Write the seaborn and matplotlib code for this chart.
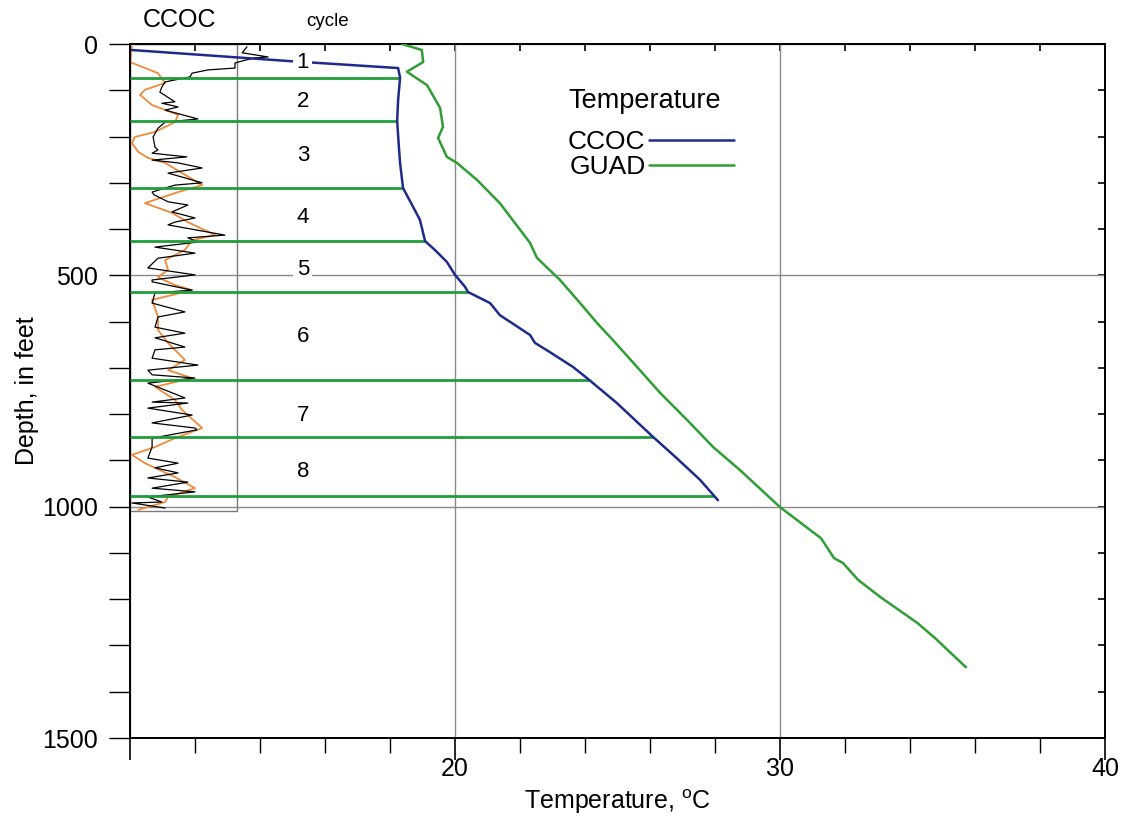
import numpy as np
import pandas as pd
import matplotlib
matplotlib.use("Agg")
import matplotlib.pyplot as plt
import seaborn as sns
from matplotlib.lines import Line2D
from matplotlib.patches import Rectangle
from matplotlib.ticker import MultipleLocator

# ---------------- data ----------------
# CCOC temperature profile (depth ft, temperature degC)
ccoc_depth = [13, 37, 52, 73, 121, 166, 229, 257, 311, 348, 380, 426, 445, 471, 499,
              525, 536, 560, 586, 629, 646, 666, 698, 722, 776, 849, 888, 942, 986]
ccoc_temp = [10.06, 14.92, 18.25, 18.31, 18.25, 18.22, 18.28, 18.31, 18.40, 18.68, 18.92,
             19.08, 19.38, 19.75, 20.00, 20.31, 20.40, 21.08, 21.38, 22.31, 22.46, 22.92,
             23.63, 24.06, 24.98, 26.09, 26.71, 27.54, 28.09]

# GUAD temperature profile
guad_depth = [0, 13, 39, 60, 89, 138, 179, 203, 244, 257, 294, 344, 430, 462, 510, 560,
              603, 640, 705, 754, 819, 871, 921, 1001, 1057, 1068, 1111, 1122, 1158,
              1195, 1251, 1284, 1347]
guad_temp = [18.37, 18.98, 19.02, 18.52, 19.14, 19.54, 19.63, 19.48, 19.75, 20.06, 20.68,
             21.38, 22.31, 22.52, 23.23, 23.85, 24.37, 24.86, 25.69, 26.31, 27.23, 27.94,
             28.77, 30.00, 31.05, 31.26, 31.66, 31.94, 32.40, 33.08, 34.22, 34.77, 35.72]

# CCOC well log (raw trace, black) in axis units
log_raw_depth = [6, 19, 28, 30, 35, 41, 52, 56, 63, 71, 82, 93, 104, 125, 128, 136, 143,
                 162, 169, 182, 201, 223, 229, 236, 244, 251, 257, 268, 279, 300, 305,
                 320, 326, 341, 348, 363, 376, 385, 391, 413, 419, 428, 439, 452, 463,
                 484, 499, 510, 514, 532, 538, 560, 579, 590, 612, 625, 635, 655, 661,
                 679, 694, 705, 715, 722, 733, 765, 774, 776, 787, 802, 819, 830, 834,
                 852, 871, 895, 906, 916, 927, 938, 947, 960, 968, 979, 990, 992, 1003]
log_raw_value = [13.60, 13.45, 14.25, 13.85, 13.54, 13.23, 13.23, 12.40, 11.91, 11.85,
                 11.08, 10.98, 10.92, 11.38, 10.98, 11.48, 11.08, 12.09, 11.08, 10.86,
                 10.71, 10.77, 10.86, 10.68, 11.75, 10.68, 11.48, 12.22, 11.17, 12.22,
                 11.38, 10.68, 10.74, 11.17, 11.78, 11.29, 12.00, 11.38, 11.17, 12.92,
                 11.78, 12.09, 10.77, 12.00, 10.86, 10.55, 12.00, 10.68, 10.68, 11.91,
                 10.77, 10.68, 11.69, 10.86, 10.77, 11.69, 10.77, 11.69, 10.77, 10.68,
                 12.09, 10.55, 10.68, 12.00, 10.55, 11.69, 10.68, 11.78, 10.55, 11.91,
                 10.68, 12.00, 12.06, 10.68, 10.68, 10.55, 11.48, 10.77, 11.48, 10.55,
                 11.78, 10.68, 12.00, 10.55, 10.98, 10.06, 11.08]

# CCOC well log (smoothed trace, orange)
log_smooth_depth = [6, 39, 63, 84, 99, 110, 132, 153, 169, 190, 201, 214, 233, 246, 257,
                    279, 305, 320, 344, 365, 385, 413, 424, 445, 467, 488, 504, 521, 532,
                    553, 590, 618, 646, 683, 705, 722, 741, 769, 791, 830, 852, 871, 888,
                    906, 936, 960, 979, 990, 1007]
log_smooth_value = [10.06, 10.00, 10.86, 11.08, 10.46, 10.31, 10.68, 11.48, 11.38, 10.77,
                    10.15, 10.06, 10.25, 10.55, 11.08, 11.60, 12.22, 11.48, 10.46, 11.29,
                    11.78, 12.62, 11.91, 11.69, 11.08, 11.17, 10.86, 11.38, 11.91, 10.68,
                    10.86, 10.86, 11.17, 11.69, 11.17, 11.91, 10.77, 11.38, 11.60, 12.22,
                    11.38, 10.77, 10.06, 10.46, 11.38, 12.00, 11.17, 11.08, 10.25]

# Cycle boundaries and labels
cycle_bounds = [73, 166, 311, 426, 536, 726, 849, 977]
cycle_labels = ["1", "2", "3", "4", "5", "6", "7", "8"]
cycle_label_depth = [41, 125, 240, 376, 488, 633, 802, 925]
cycle_label_temp = 15.32
log_box = (10.0, 13.29, 1009)  # left, right, bottom depth of the log panel

legend_title = "Temperature"
legend_labels = ["CCOC", "GUAD"]

# ---------------- style ----------------
sns.set_theme(style="white")
plt.rcParams["font.family"] = ["Liberation Sans", "DejaVu Sans"]
plt.rcParams["text.color"] = "black"
plt.rcParams["axes.labelcolor"] = "black"
plt.rcParams["xtick.color"] = "black"
plt.rcParams["ytick.color"] = "black"

BLUE = "#1f2a8a"
GREEN = "#2e9e35"
CYC_GREEN = "#1f9e3a"
ORANGE = "#ef8a3a"
GRID = "#8a8a8a"

fig = plt.figure(figsize=(11.25, 8.16), dpi=100)
ax = fig.add_axes([130 / 1125, 1 - 738 / 816, 975 / 1125, 694 / 816])
ax.set_facecolor("white")

ax.set_xlim(10, 40)
ax.set_ylim(1500, 0)

# gridlines
ax.set_xticks([10, 20, 30, 40])
ax.set_xticklabels(["", "20", "30", "40"])
ax.set_yticks([0, 500, 1000, 1500])
ax.xaxis.set_minor_locator(MultipleLocator(2))
ax.yaxis.set_minor_locator(MultipleLocator(100))
ax.grid(True, which="major", color=GRID, lw=1.0, zorder=0)
ax.set_axisbelow(True)

# log panel box
ax.add_patch(Rectangle((log_box[0], 0), log_box[1] - log_box[0], log_box[2],
                       fill=False, ec="#7a7a7a", lw=1.0, zorder=1))

# well log traces
sns.lineplot(x=log_smooth_value, y=log_smooth_depth, sort=False, estimator=None,
             color=ORANGE, lw=1.3, ax=ax, zorder=2)
sns.lineplot(x=log_raw_value, y=log_raw_depth, sort=False, estimator=None,
             color="black", lw=0.9, ax=ax, zorder=3)

# cycle boundaries ending at CCOC temperature
cyc_end = np.interp(cycle_bounds, ccoc_depth, ccoc_temp)
ax.hlines(cycle_bounds, 10, cyc_end, color=CYC_GREEN, lw=2.0, zorder=4)

# temperature profiles
sns.lineplot(x=ccoc_temp, y=ccoc_depth, sort=False, estimator=None,
             color=BLUE, lw=1.8, ax=ax, zorder=5)
sns.lineplot(x=guad_temp, y=guad_depth, sort=False, estimator=None,
             color=GREEN, lw=1.8, ax=ax, zorder=5)

# cycle labels
for lab, d in zip(cycle_labels, cycle_label_depth):
    ax.text(cycle_label_temp, d, lab, ha="center", va="center", fontsize=16,
            zorder=6, bbox=dict(boxstyle="square,pad=0.15", fc="white", ec="none"))

# ticks
ax.tick_params(axis="x", which="major", direction="out", length=16, width=1.2,
               labelsize=18, pad=-2.5, bottom=True, top=False)
ax.tick_params(axis="x", which="minor", direction="out", length=11, width=1.0,
               bottom=True, top=False)
ax.tick_params(axis="y", which="both", direction="out", length=15, width=1.0,
               labelsize=18, pad=8, left=True, right=False)
for s in ax.spines.values():
    s.set_color("black")
    s.set_linewidth(1.4)

secx = ax.secondary_xaxis("top")
secx.set_xticks([10, 20, 30, 40])
secx.xaxis.set_minor_locator(MultipleLocator(2))
secx.tick_params(which="both", direction="in", length=5, width=1.2, labeltop=False)
secy = ax.secondary_yaxis("right")
secy.set_yticks([0, 500, 1000, 1500])
secy.yaxis.set_minor_locator(MultipleLocator(100))
secy.tick_params(which="both", direction="in", length=5, width=1.2, labelright=False)

ax.set_xlabel("Temperature, $\\mathregular{^{o}}$C", fontsize=18, labelpad=5)
ax.set_ylabel("Depth, in feet", fontsize=18, labelpad=2)

# legend
handles = [Line2D([], [], color=BLUE, lw=1.8), Line2D([], [], color=GREEN, lw=1.8)]
leg = ax.legend(handles, legend_labels, fontsize=19, markerfirst=False, frameon=False,
                handlelength=3.25, handletextpad=0.12, labelspacing=0.05, borderpad=0,
                borderaxespad=0, loc="upper left",
                bbox_to_anchor=(568 / 1125, 1 - 130 / 816),
                bbox_transform=fig.transFigure)
fig.text(645 / 1125, 1 - 101 / 816, legend_title, ha="center", va="center",
         fontsize=19.5)

# panel titles
fig.text(180 / 1125, 1 - 20 / 816, "CCOC", ha="center", va="center", fontsize=18)
fig.text(328 / 1125, 1 - 22 / 816, "cycle", ha="center", va="center", fontsize=13.5)

fig.savefig("out.png", dpi=100, facecolor="white")
